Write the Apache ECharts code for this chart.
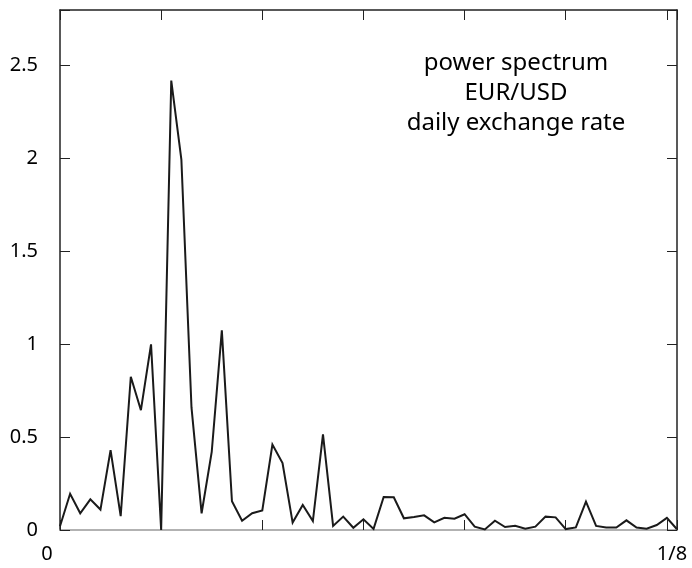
<!DOCTYPE html>
<html>
<head>
<meta charset="utf-8">
<script src="https://cdn.jsdelivr.net/npm/echarts@6/dist/echarts.min.js"></script>
<style>
html,body{margin:0;padding:0;background:#fff;}
#chart{width:692px;height:568px;}
</style>
</head>
<body>
<div id="chart"></div>
<script>
// frequency index (k = 0..61; k = 61 corresponds to 1/8)
const freqIndex = [0,1,2,3,4,5,6,7,8,9,10,11,12,13,14,15,16,17,18,19,20,
  21,22,23,24,25,26,27,28,29,30,31,32,33,34,35,36,37,38,39,40,
  41,42,43,44,45,46,47,48,49,50,51,52,53,54,55,56,57,58,59,60,61];
// power spectrum values
const power = [0.02,0.195,0.09,0.165,0.11,0.43,0.075,0.825,0.645,1.0,0.0,
  2.42,1.995,0.66,0.09,0.42,1.075,0.155,0.05,0.09,0.105,
  0.46,0.36,0.04,0.135,0.048,0.515,0.022,0.072,0.012,0.058,
  0.006,0.178,0.176,0.063,0.07,0.079,0.041,0.066,0.061,0.085,
  0.018,0.003,0.05,0.016,0.023,0.007,0.018,0.072,0.068,0.005,
  0.014,0.153,0.022,0.013,0.013,0.052,0.013,0.007,0.027,0.065,0.004];
const xLabelValues = [0, 61];
const xLabelTexts = ['0', '1/8'];
const yTickValues = [0, 0.5, 1, 1.5, 2, 2.5];
const yTickLabels = ['0', '0.5', '1', '1.5', '2', '2.5'];
const annotationLines = ['power spectrum', 'EUR/USD', 'daily exchange rate'];

const FONT = '"Noto Sans", "Liberation Sans", sans-serif';
const chart = echarts.init(document.getElementById('chart'), null, {renderer: 'canvas'});

function xLabel(v) {
  const i = xLabelValues.indexOf(v);
  if (i < 0) return '';
  return i === 0 ? '{a|' + xLabelTexts[i] + '}' : '{b|' + xLabelTexts[i] + '}';
}
function yLabel(v) {
  for (let i = 0; i < yTickValues.length; i++) {
    if (Math.abs(yTickValues[i] - v) < 1e-9) return yTickLabels[i];
  }
  return '';
}

const tickStyle = {show: true, inside: true, length: 10, lineStyle: {color: '#222', width: 1}};

chart.setOption({
  animation: false,
  backgroundColor: '#fff',
  grid: {left: 60, right: 15, top: 10, bottom: 38, containLabel: false},
  xAxis: [
    {
      type: 'value', min: 0, max: 61, interval: 10, position: 'bottom',
      axisLine: {show: true, onZero: false, lineStyle: {color: '#999', width: 1.5}},
      axisTick: tickStyle,
      splitLine: {show: false},
      axisLabel: {
        show: true, margin: 14, formatter: xLabel, color: '#000',
        fontFamily: FONT, fontSize: 20,
        rich: {
          a: {fontFamily: FONT, fontSize: 20, color: '#000', padding: [0, 26, 0, 0]},
          b: {fontFamily: FONT, fontSize: 20, color: '#000', padding: [0, 10, 0, 0]}
        }
      }
    },
    {
      type: 'value', min: 0, max: 61, interval: 10, position: 'top',
      axisLine: {show: true, onZero: false, lineStyle: {color: '#222', width: 1.5}},
      axisTick: tickStyle,
      splitLine: {show: false},
      axisLabel: {show: false}
    }
  ],
  yAxis: [
    {
      type: 'value', min: 0, max: 2.8, interval: 0.5, position: 'left',
      axisLine: {show: true, onZero: false, lineStyle: {color: '#222', width: 1.5}},
      axisTick: tickStyle,
      splitLine: {show: false},
      axisLabel: {show: true, margin: 22, formatter: yLabel, color: '#000', fontFamily: FONT, fontSize: 20}
    },
    {
      type: 'value', min: 0, max: 2.8, interval: 0.5, position: 'right',
      axisLine: {show: true, onZero: false, lineStyle: {color: '#222', width: 1.5}},
      axisTick: tickStyle,
      splitLine: {show: false},
      axisLabel: {show: false}
    }
  ],
  series: [{
    type: 'line',
    xAxisIndex: 0, yAxisIndex: 0,
    data: freqIndex.map((k, i) => [k, power[i]]),
    symbol: 'none',
    lineStyle: {color: '#1a1a1a', width: 2, join: 'miter', miterLimit: 4},
    z: 3
  }],
  graphic: [{
    type: 'text',
    x: 516, y: 93,
    style: {
      text: annotationLines.join('\n'),
      font: '24px ' + FONT,
      fill: '#000',
      align: 'center',
      verticalAlign: 'middle',
      lineHeight: 30
    }
  }]
});
</script>
</body>
</html>
